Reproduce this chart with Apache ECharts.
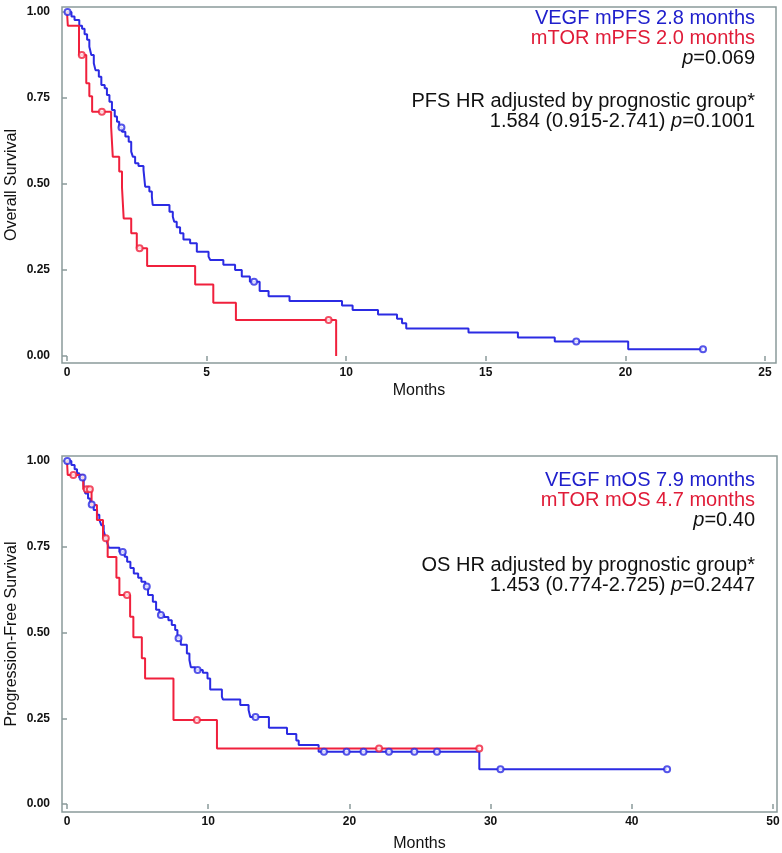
<!DOCTYPE html>
<html><head><meta charset="utf-8">
<script src="https://cdn.jsdelivr.net/npm/echarts@6/dist/echarts.min.js"></script>
<style>html,body{margin:0;padding:0;background:#fff}#c{width:782px;height:853px}</style>
</head><body><div id="c"></div>
<script>
// ---- tick labels ----
const topXTicks = [0, 5, 10, 15, 20, 25];
const botXTicks = [0, 10, 20, 30, 40, 50];
const yTickValues = [0, 0.25, 0.5, 0.75, 1];
const yTickLabels = ['0.00', '0.25', '0.50', '0.75', '1.00'];

// ---- top panel (PFS) ----
const topVegfTime = [0,0.16,0.27,0.44,0.54,0.63,0.72,0.80,0.87,0.96,1.02,1.14,1.23,1.35,1.43,1.52,1.61,1.71,1.79,1.87,1.97,2.09,2.21,2.30,2.36,2.44,2.56,2.74,2.80,2.95,3.04,3.07,3.67,3.79,3.84,3.93,4.05,4.17,4.41,4.65,5.07,5.13,5.60,6.02,6.26,6.55,6.90,7.22,7.97,9.85,10.23,11.14,11.82,12.00,12.15,14.38,16.15,17.47,20.10];
const topVegfSurv = [1,0.987,0.977,0.960,0.951,0.935,0.919,0.899,0.875,0.851,0.831,0.812,0.788,0.778,0.759,0.739,0.715,0.696,0.681,0.664,0.652,0.638,0.623,0.594,0.579,0.560,0.552,0.541,0.492,0.478,0.463,0.439,0.419,0.405,0.390,0.374,0.357,0.339,0.328,0.303,0.289,0.279,0.265,0.250,0.231,0.216,0.189,0.174,0.160,0.147,0.134,0.121,0.108,0.095,0.080,0.068,0.054,0.042,0.020];
const topVegfEnd = 22.78;
const topVegfCens = [0.02, 1.95, 6.7, 18.24, 22.78];

const topMtorTime = [0,0.03,0.43,0.69,0.80,0.90,1.58,1.64,1.87,1.97,2.03,2.30,2.50,2.87,4.59,5.24,6.05,9.64];
const topMtorSurv = [1,0.96,0.875,0.793,0.755,0.71,0.667,0.579,0.536,0.49,0.40,0.357,0.313,0.262,0.208,0.155,0.105,0];
const topMtorEnd = 9.64;
const topMtorCens = [0.53, 1.25, 2.6, 9.37];

// ---- bottom panel (OS) ----
const botVegfTime = [0,0.31,0.54,0.71,0.87,1.18,1.30,1.49,1.65,1.89,2.13,2.29,2.43,2.60,2.72,2.84,2.96,3.71,4.09,4.26,4.49,4.73,5.04,5.27,5.55,5.74,6.08,6.31,6.55,6.88,7.18,7.42,7.66,7.82,8.06,8.49,8.67,8.77,9.08,9.62,9.95,10.14,10.97,11.04,12.27,12.86,12.98,14.30,15.58,16.24,16.41,17.82,29.2];
const botVegfSurv = [1,0.988,0.976,0.964,0.952,0.928,0.905,0.891,0.873,0.857,0.843,0.829,0.813,0.796,0.779,0.763,0.747,0.735,0.721,0.706,0.688,0.672,0.660,0.648,0.634,0.609,0.590,0.566,0.551,0.545,0.536,0.522,0.507,0.483,0.464,0.439,0.420,0.399,0.391,0.383,0.366,0.334,0.313,0.305,0.289,0.274,0.254,0.222,0.204,0.185,0.172,0.152,0.101];
const botVegfEnd = 42.5;
const botVegfCens = [0.02, 1.1, 1.75, 3.95, 5.65, 6.65, 7.9, 9.25, 13.35, 18.2, 19.8, 21.0, 22.8, 24.6, 26.2, 30.7, 42.5];

const botMtorTime = [0,0.05,1.15,1.74,2.12,2.55,2.88,3.50,3.71,4.47,4.70,5.30,5.53,7.54,10.62];
const botMtorSurv = [1,0.959,0.918,0.872,0.828,0.775,0.72,0.66,0.609,0.546,0.486,0.425,0.366,0.245,0.162];
const botMtorEnd = 29.2;
const botMtorCens = [0.45, 1.4, 1.62, 2.75, 4.25, 9.2, 22.1, 29.2];

const BLUE = '#2b2be3', RED = '#f0203c', FRAME = '#8a9a9a';
const FONT = '"Liberation Sans", Arial, sans-serif';

function stepData(times, surv, endT) {
  const d = times.map((t, i) => [t, surv[i]]);
  const last = d[d.length - 1];
  if (endT > last[0]) d.push([endT, last[1]]);
  return d;
}
function survAt(times, surv, t) {
  let v = surv[0];
  for (let i = 0; i < times.length; i++) if (times[i] <= t) v = surv[i];
  return v;
}
function censData(times, surv, cens) { return cens.map(t => [t, survAt(times, surv, t)]); }

function xAxisDef(grid, min, max, ticks, gap) {
  return {
    type: 'value', gridIndex: grid, min: min, max: max,
    axisLine: {show: false}, splitLine: {show: false},
    axisTick: {show: true, length: 5, customValues: ticks, lineStyle: {color: FRAME, width: 1.5}},
    axisLabel: {margin: 4, fontSize: 12, fontWeight: 'bold', color: '#111', fontFamily: FONT,
      customValues: ticks, formatter: v => String(v)},
    name: 'Months', nameLocation: 'middle', nameGap: gap, nameMoveOverlap: false,
    nameTextStyle: {fontSize: 16, color: '#111', fontFamily: FONT}
  };
}
function yAxisDef(grid, min, max, name) {
  return {
    type: 'value', gridIndex: grid, min: min, max: max,
    axisLine: {show: false}, splitLine: {show: false},
    axisTick: {show: true, length: 5, customValues: yTickValues, lineStyle: {color: FRAME, width: 1.5}},
    axisLabel: {margin: 12, fontSize: 12, fontWeight: 'bold', color: '#111', fontFamily: FONT,
      customValues: yTickValues,
      formatter: v => { const i = yTickValues.indexOf(v); return i >= 0 ? yTickLabels[i] : ''; }},
    name: name, nameLocation: 'middle', nameRotate: 90, nameGap: 42, nameMoveOverlap: false,
    nameTextStyle: {fontSize: 16, color: '#111', fontFamily: FONT}
  };
}
function stepSeries(xi, data, color) {
  return {type: 'line', xAxisIndex: xi, yAxisIndex: xi, step: 'end', data: data, symbol: 'none',
    lineStyle: {color: color, width: 2}, animation: false, silent: true, z: 3};
}
function censSeries(xi, data, color) {
  return {type: 'scatter', xAxisIndex: xi, yAxisIndex: xi, data: data, symbol: 'emptyCircle', symbolSize: 6,
    itemStyle: {color: color, borderColor: color, borderWidth: 1}, animation: false, silent: true, z: 4};
}

const chart = echarts.init(document.getElementById('c'), null, {renderer: 'canvas'});
chart.setOption({
  backgroundColor: '#fff',
  animation: false,
  grid: [
    {left: 62, top: 7, width: 714, height: 356, show: true, borderColor: FRAME, borderWidth: 1.5,
     backgroundColor: 'transparent', containLabel: false, outerBoundsMode: 'none'},
    {left: 62, top: 456, width: 715, height: 356, show: true, borderColor: FRAME, borderWidth: 1.5,
     backgroundColor: 'transparent', containLabel: false, outerBoundsMode: 'none'}
  ],
  xAxis: [
    xAxisDef(0, -0.179, 25.394, topXTicks, 20),
    xAxisDef(1, -0.354, 50.283, botXTicks, 24)
  ],
  yAxis: [
    yAxisDef(0, -0.0203, 1.0145, 'Overall Survival'),
    yAxisDef(1, -0.0233, 1.0146, 'Progression-Free Survival')
  ],
  series: [
    stepSeries(0, stepData(topVegfTime, topVegfSurv, topVegfEnd), BLUE),
    stepSeries(0, stepData(topMtorTime, topMtorSurv, topMtorEnd), RED),
    censSeries(0, censData(topVegfTime, topVegfSurv, topVegfCens), BLUE),
    censSeries(0, censData(topMtorTime, topMtorSurv, topMtorCens), RED),
    stepSeries(1, stepData(botVegfTime, botVegfSurv, botVegfEnd), BLUE),
    stepSeries(1, stepData(botMtorTime, botMtorSurv, botMtorEnd), RED),
    censSeries(1, censData(botVegfTime, botVegfSurv, botVegfCens), BLUE),
    censSeries(1, censData(botMtorTime, botMtorSurv, botMtorCens), RED)
  ],
  graphic: (function () {
    const items = [
      ['VEGF mPFS 2.8 months', '#2020cc', 18],
      ['mTOR mPFS 2.0 months', '#e01c38', 38],
      ['{i|p}=0.069', '#111', 58],
      ['PFS HR adjusted by prognostic group*', '#111', 101],
      ['1.584 (0.915-2.741) {i|p}=0.1001', '#111', 121],
      ['VEGF mOS 7.9 months', '#2020cc', 480],
      ['mTOR mOS 4.7 months', '#e01c38', 500],
      ['{i|p}=0.40', '#111', 520],
      ['OS HR adjusted by prognostic group*', '#111', 565],
      ['1.453 (0.774-2.725) {i|p}=0.2447', '#111', 585]
    ];
    return items.map(([t, c, y]) => ({
      type: 'text', right: 27, top: y - 10, silent: true,
      style: {text: t, fill: c, fontSize: 20, fontFamily: FONT, textAlign: 'right',
        rich: {i: {fontStyle: 'italic', fontSize: 20, fontFamily: FONT, fill: c}}}
    }));
  })()
});
</script>
</body></html>
